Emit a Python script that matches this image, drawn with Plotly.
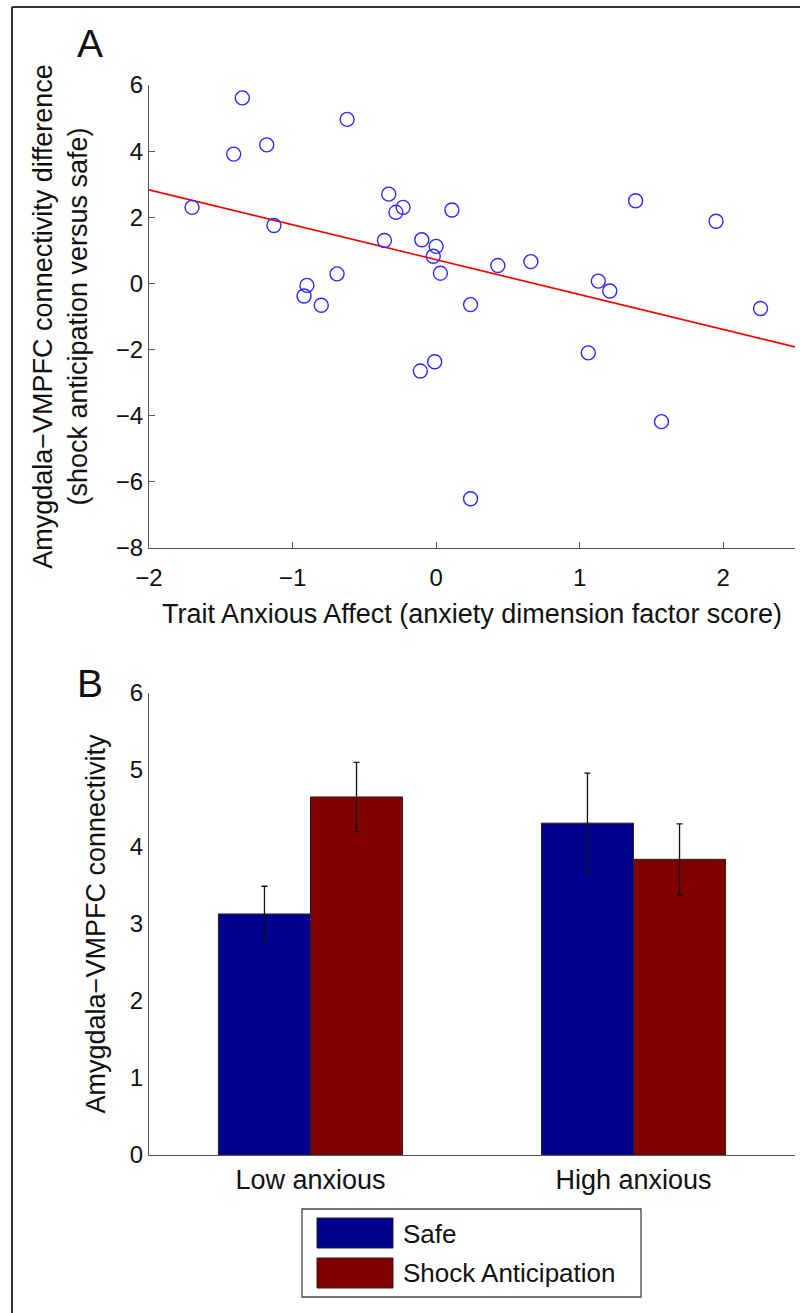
import plotly.graph_objects as go

# ---------------- Data ----------------
# Panel A: scatter of trait anxious affect vs connectivity difference
trait_x = [-1.70, -1.35, -1.41, -1.18, -1.13, -0.62, -0.33, -0.28, -0.23, -0.36,
           -0.69, -0.90, -0.92, -0.80, 0.11, -0.10, 0.00, -0.02, 0.03, 0.24,
           0.43, 0.66, 1.13, 1.21, 1.39, 1.95, 2.26, -0.11, -0.01, 1.06,
           1.57, 0.24]
conn_diff = [2.30, 5.61, 3.91, 4.19, 1.75, 4.96, 2.70, 2.15, 2.30, 1.30,
             0.29, -0.06, -0.38, -0.66, 2.22, 1.32, 1.12, 0.82, 0.31, -0.64,
             0.54, 0.66, 0.07, -0.23, 2.50, 1.88, -0.76, -2.65, -2.37, -2.10,
             -4.18, -6.51]
fit_x = [-2.0, 2.5]
fit_y = [2.83, -1.92]

# Panel B: grouped bars
groups = ["Low anxious", "High anxious"]
group_pos = [1, 2]
safe_vals = [3.13, 4.31]
safe_err = [0.36, 0.65]
shock_vals = [4.65, 3.84]
shock_err = [0.45, 0.46]
legend_labels = ["Safe", "Shock Anticipation"]

SAFE_COLOR = "#00008F"
SHOCK_COLOR = "#800000"
FONT = "Liberation Sans, Arial, Helvetica, sans-serif"
AXIS_COLOR = "#555555"

W, H = 800, 1313


def px_x(p):
    return p / W


def px_y(p):
    return (H - p) / H


fig = go.Figure()

# ---- Panel A ----
fig.add_trace(go.Scatter(
    x=fit_x, y=fit_y, mode="lines",
    line=dict(color="#FF0000", width=1.6),
    xaxis="x", yaxis="y", showlegend=False, hoverinfo="skip"))
fig.add_trace(go.Scatter(
    x=trait_x, y=conn_diff, mode="markers",
    marker=dict(symbol="circle-open", size=14, color="#2a2aFF",
                line=dict(width=1.4, color="#2a2aFF")),
    xaxis="x", yaxis="y", showlegend=False))

# ---- Panel B ----
fig.add_trace(go.Bar(
    x=group_pos, y=safe_vals, name=legend_labels[0],
    marker=dict(color=SAFE_COLOR, line=dict(color="#222222", width=1)),
    error_y=dict(type="data", array=safe_err, color="#111111",
                 thickness=1.3, width=3),
    xaxis="x2", yaxis="y2", showlegend=False))
fig.add_trace(go.Bar(
    x=group_pos, y=shock_vals, name=legend_labels[1],
    marker=dict(color=SHOCK_COLOR, line=dict(color="#222222", width=1)),
    error_y=dict(type="data", array=shock_err, color="#111111",
                 thickness=1.3, width=3),
    xaxis="x2", yaxis="y2", showlegend=False))

axis_common = dict(showline=True, linecolor=AXIS_COLOR, linewidth=1.3,
                   showgrid=False, zeroline=False, automargin=False,
                   tickfont=dict(family=FONT, size=24, color="#111111"))

xdom = [px_x(149), px_x(795)]

fig.update_layout(
    width=W, height=H,
    margin=dict(l=0, r=0, t=0, b=0),
    paper_bgcolor="white", plot_bgcolor="white",
    font=dict(family=FONT, color="#111111"),
    barmode="group", bargap=0.43, bargroupgap=0.0,
    xaxis=dict(domain=xdom, range=[-2, 2.5], tickvals=[-2, -1, 0, 1, 2],
               ticks="inside", ticklen=6, tickcolor=AXIS_COLOR,
               ticklabelstandoff=8,
               anchor="y",
               title=dict(text="Trait Anxious Affect (anxiety dimension factor score)",
                          font=dict(family=FONT, size=27, color="#111111"),
                          standoff=14),
               **axis_common),
    yaxis=dict(domain=[px_y(548), px_y(85)], range=[-8, 6], dtick=2,
               ticks="inside", ticklen=6, tickcolor=AXIS_COLOR,
               anchor="x",
               title=dict(text="Amygdala\u2212VMPFC connectivity difference<br>(shock anticipation versus safe)",
                          font=dict(family=FONT, size=27, color="#111111"),
                          standoff=20),
               **axis_common),
    xaxis2=dict(domain=xdom, range=[0.5, 2.5], tickvals=group_pos,
                ticktext=groups, ticks="", anchor="y2",
                **{**axis_common,
                   "tickfont": dict(family=FONT, size=27, color="#111111")}),
    yaxis2=dict(domain=[px_y(1155), px_y(693)], range=[0, 6], dtick=1,
                ticks="", anchor="x2",
                title=dict(text="Amygdala\u2212VMPFC connectivity",
                           font=dict(family=FONT, size=27, color="#111111"),
                           standoff=16),
                **axis_common),
)

# Panel letters
fig.add_annotation(text="A", x=px_x(90), y=px_y(44), xref="paper", yref="paper",
                   xanchor="center", yanchor="middle",
                   showarrow=False, font=dict(family=FONT, size=39, color="#111111"))
fig.add_annotation(text="B", x=px_x(90), y=px_y(683), xref="paper", yref="paper",
                   xanchor="center", yanchor="middle",
                   showarrow=False, font=dict(family=FONT, size=39, color="#111111"))

# Outer frame (left and top edges)
fig.add_shape(type="line", xref="paper", yref="paper",
              x0=px_x(12), x1=px_x(12), y0=0, y1=px_y(7),
              line=dict(color="#333333", width=2))
fig.add_shape(type="line", xref="paper", yref="paper",
              x0=px_x(12), x1=1, y0=px_y(7), y1=px_y(7),
              line=dict(color="#333333", width=2))

# Legend box drawn manually (big swatches as in the original)
fig.add_shape(type="rect", xref="paper", yref="paper",
              x0=px_x(302), x1=px_x(641), y0=px_y(1297), y1=px_y(1209),
              line=dict(color="#444444", width=1.3), fillcolor="white")
legend_rows = [(1218, 1248, 1234, SAFE_COLOR), (1258, 1288, 1273, SHOCK_COLOR)]
for (top, bot, mid, col), lab in zip(legend_rows, legend_labels):
    fig.add_shape(type="rect", xref="paper", yref="paper",
                  x0=px_x(317), x1=px_x(393), y0=px_y(bot), y1=px_y(top),
                  line=dict(color="#222222", width=1), fillcolor=col)
    fig.add_annotation(text=lab, x=px_x(401), y=px_y(mid), xref="paper", yref="paper",
                       xanchor="left", yanchor="middle", showarrow=False,
                       font=dict(family=FONT, size=26, color="#111111"))

fig.write_html("out.html")
